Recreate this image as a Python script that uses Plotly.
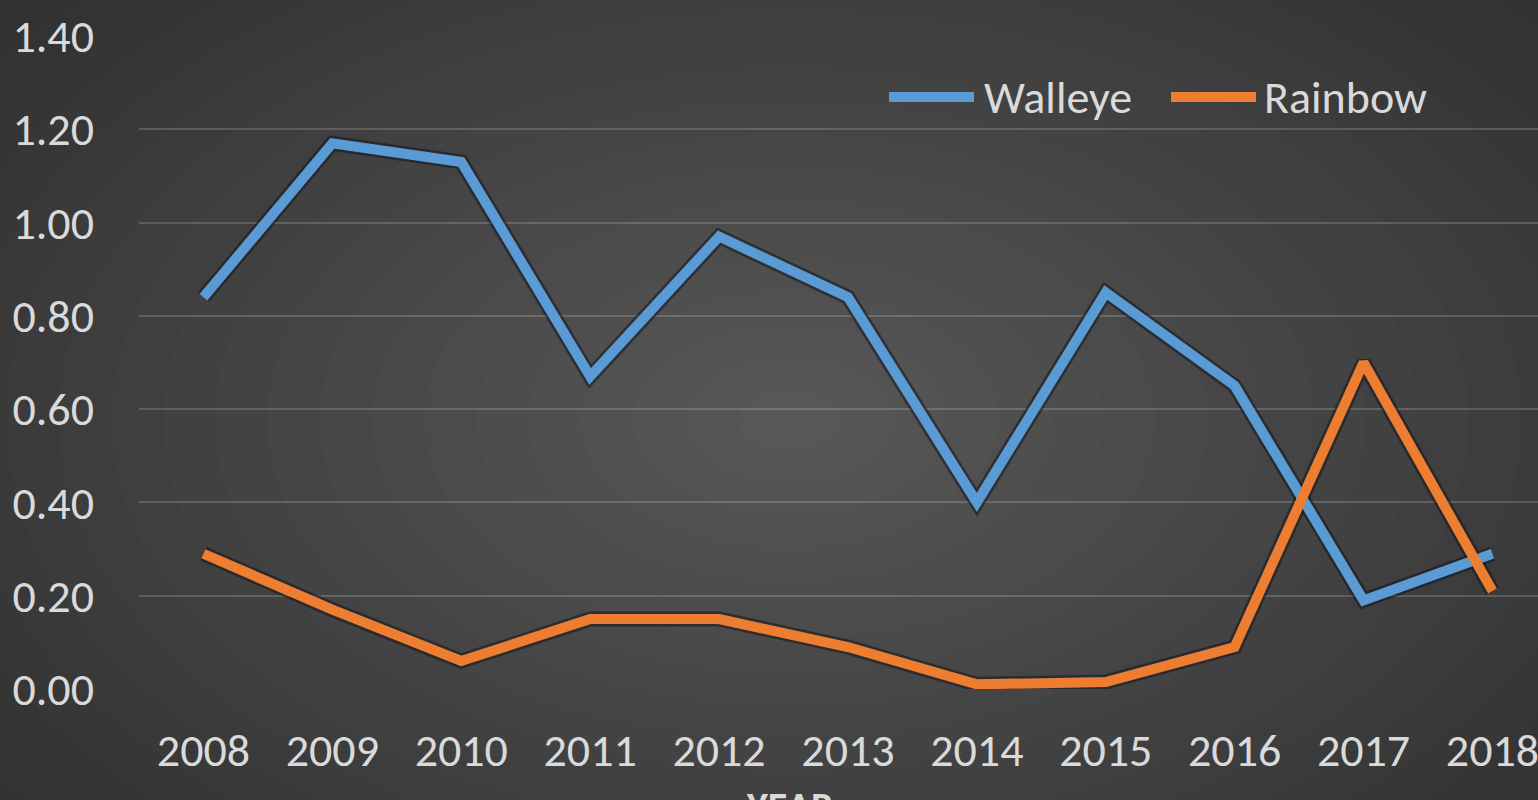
import plotly.graph_objects as go

years = [2008, 2009, 2010, 2011, 2012, 2013, 2014, 2015, 2016, 2017, 2018]
walleye = [0.84, 1.17, 1.13, 0.67, 0.97, 0.84, 0.40, 0.85, 0.65, 0.19, 0.29]
rainbow = [0.29, 0.17, 0.06, 0.15, 0.15, 0.09, 0.01, 0.015, 0.09, 0.70, 0.21]
y_ticks = [0.0, 0.2, 0.4, 0.6, 0.8, 1.0, 1.2, 1.4]
y_tick_labels = ["0.00", "0.20", "0.40", "0.60", "0.80", "1.00", "1.20", "1.40"]
series_names = ["Walleye", "Rainbow"]
series_colors = ["#5B9BD5", "#ED7D31"]

W, H = 1538, 800
ML, MT, MB = 139, 36, 111
plot_w = W - ML
plot_h = H - MT - MB
px_per_year = 128.9
x0 = 2007.5
x1 = x0 + plot_w / px_per_year

FONT = "Carlito, Calibri, Lato, sans-serif"
TXT = "#dadada"
FS = 46


def px_to_paper_x(p):
    return (p - ML) / plot_w


def px_to_paper_y(p):
    return 1 - (p - MT) / plot_h


fig = go.Figure()

# soft dark outline (shadow) under each line
for vals in (walleye, rainbow):
    fig.add_trace(go.Scatter(x=years, y=vals, mode="lines",
                             line=dict(color="rgba(20,22,28,0.55)", width=15),
                             showlegend=False, hoverinfo="skip"))

for name, vals, col in zip(series_names, (walleye, rainbow), series_colors):
    fig.add_trace(go.Scatter(x=years, y=vals, mode="lines", name=name,
                             line=dict(color=col, width=10), showlegend=False))

# radial gradient background via stacked translucent ellipses
shapes = []
cx, cy = 790, 420
n = 22
for i in range(n):
    f = 1 - i / n
    rx = 1150 * f
    ry = 700 * f
    shapes.append(dict(type="circle", xref="paper", yref="paper",
                       x0=px_to_paper_x(cx - rx), x1=px_to_paper_x(cx + rx),
                       y0=px_to_paper_y(cy + ry), y1=px_to_paper_y(cy - ry),
                       fillcolor="rgba(255,255,255,0.011)", line=dict(width=0),
                       layer="below"))

# legend (line samples + labels)
annotations = []
legend_items = [(889, 974, 982), (1171, 1256, 1262)]
ly = 97
for (lx0, lx1, tx), name, col in zip(legend_items, series_names, series_colors):
    shapes.append(dict(type="line", xref="paper", yref="paper",
                       x0=px_to_paper_x(lx0), x1=px_to_paper_x(lx1),
                       y0=px_to_paper_y(ly), y1=px_to_paper_y(ly),
                       line=dict(color=col, width=10), layer="above"))
    annotations.append(dict(text=name, xref="paper", yref="paper",
                            x=px_to_paper_x(tx), y=px_to_paper_y(ly),
                            xanchor="left", yanchor="middle", showarrow=False,
                            font=dict(size=FS, color=TXT, family=FONT)))

annotations.append(dict(text="<b>YEAR</b>", xref="paper", yref="paper",
                        x=px_to_paper_x(790), y=px_to_paper_y(780),
                        xanchor="center", yanchor="top", showarrow=False,
                        font=dict(size=40, color=TXT, family=FONT)))

fig.update_layout(
    width=W, height=H,
    margin=dict(l=ML, r=0, t=MT, b=MB, pad=0),
    paper_bgcolor="#2b2b2b",
    plot_bgcolor="rgba(0,0,0,0)",
    font=dict(family=FONT, color=TXT, size=FS),
    shapes=shapes,
    showlegend=False,
    xaxis=dict(range=[x0, x1], tickvals=years, ticktext=[str(y) for y in years],
               showgrid=False, zeroline=False, showline=False,
               ticks="", ticklabelstandoff=30, ticklabeloverflow="allow",
               tickfont=dict(size=FS, color=TXT, family=FONT)),
    yaxis=dict(range=[0, 1.4], tickvals=y_ticks, ticktext=y_tick_labels,
               showgrid=True, gridcolor="rgba(255,255,255,0.17)", gridwidth=1.5,
               zeroline=False, showline=False, ticks="", ticklabelstandoff=44,
               tickfont=dict(size=FS, color=TXT, family=FONT)),
    annotations=annotations,
)

fig.write_html("out.html", config={"displayModeBar": False},
               post_script="document.body.style.margin='0';document.body.style.overflow='hidden';")
